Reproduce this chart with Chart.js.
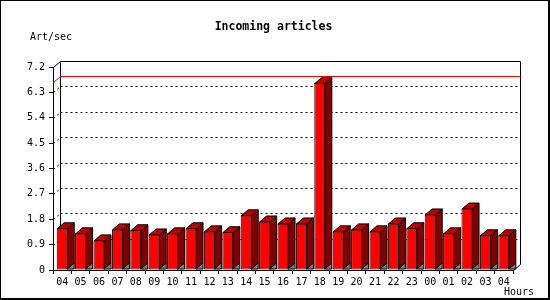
<!DOCTYPE html>
<html>
<head>
<meta charset="utf-8">
<title>Incoming articles</title>
<script src="https://cdn.jsdelivr.net/npm/chart.js@4.4.0/dist/chart.umd.min.js"></script>
<style>
  html, body { margin: 0; padding: 0; background: #fff; }
  #wrap { width: 550px; height: 300px; }
</style>
</head>
<body>
<div id="wrap"><canvas id="articlesChart" width="550" height="300"></canvas></div>
<script>
// jam (sumbu x) dan nilai artikel per detik
const hours = ['04', '05', '06', '07', '08', '09', '10', '11', '12', '13', '14', '15', '16',
               '17', '18', '19', '20', '21', '22', '23', '00', '01', '02', '03', '04'];
const artPerSec = [1.48, 1.30, 1.05, 1.44, 1.41, 1.26, 1.30, 1.48, 1.37, 1.34, 1.94, 1.72, 1.65,
                   1.65, 6.63, 1.37, 1.44, 1.37, 1.65, 1.48, 1.97, 1.30, 2.18, 1.23, 1.23];
const yTicks = [0, 0.9, 1.8, 2.7, 3.6, 4.5, 5.4, 6.3, 7.2];
const peakLine = 6.68;

const DX = 7, DY = 6;
const monoFont = '"DejaVu Sans Mono", "Liberation Mono", monospace';

function poly(ctx, pts, fill) {
    ctx.beginPath();
    ctx.moveTo(pts[0][0], pts[0][1]);
    for (let i = 1; i < pts.length; i++) ctx.lineTo(pts[i][0], pts[i][1]);
    ctx.closePath();
    ctx.fillStyle = fill;
    ctx.fill();
    ctx.stroke();
}

function line(ctx, x1, y1, x2, y2) {
    ctx.beginPath();
    ctx.moveTo(x1, y1);
    ctx.lineTo(x2, y2);
    ctx.stroke();
}

const box3d = {
    id: 'box3d',
    beforeDraw(chart) {
        const ctx = chart.ctx;
        ctx.save();
        ctx.fillStyle = '#fff';
        ctx.fillRect(0, 0, chart.width, chart.height);
        ctx.restore();
    },
    beforeDatasetsDraw(chart) {
        const ctx = chart.ctx;
        const a = chart.chartArea;
        const ys = chart.scales.y;
        const L = Math.round(a.left) + 0.5, R = Math.round(a.right) + 0.5;
        const T = Math.round(a.top) + 0.5, B = Math.round(a.bottom) + 0.5;
        ctx.save();
        ctx.lineWidth = 1;
        ctx.strokeStyle = '#000';
        // dinding belakang
        line(ctx, L, T, L + DX, T - DY);
        line(ctx, L + DX, T - DY, R + DX, T - DY);
        line(ctx, L + DX, T - DY, L + DX, B - DY);
        line(ctx, R + DX, T - DY, R + DX, B - DY);
        line(ctx, R, B, R + DX, B - DY);
        // garis grid putus-putus
        ctx.setLineDash([2, 3]);
        yTicks.slice(1, -1).forEach(v => {
            const y = Math.round(ys.getPixelForValue(v)) + 0.5;
            line(ctx, L, y, L + DX, y - DY);
            line(ctx, L + DX, y - DY, R + DX, y - DY);
        });
        ctx.setLineDash([]);
        // garis puncak merah
        const py = Math.round(ys.getPixelForValue(peakLine)) + 0.5;
        ctx.strokeStyle = '#ff0000';
        ctx.beginPath();
        ctx.moveTo(L, py);
        ctx.lineTo(L + DX, py - DY);
        ctx.lineTo(R + DX, py - DY);
        ctx.stroke();
        ctx.restore();
    },
    afterDatasetsDraw(chart) {
        const ctx = chart.ctx;
        const meta = chart.getDatasetMeta(0);
        ctx.save();
        ctx.lineWidth = 1;
        ctx.strokeStyle = '#000';
        meta.data.forEach(bar => {
            const p = bar.getProps(['x', 'y', 'base', 'width'], true);
            const l = p.x - p.width / 2, r = p.x + p.width / 2 - 0.5;
            const t = p.y + 0.5, b = p.base - 0.5;
            poly(ctx, [[r, t], [r + DX, t - DY], [r + DX, b - DY], [r, b]], '#800000');
            poly(ctx, [[r, b], [r + DX, b - DY], [r + DX, b]], '#808080');
            poly(ctx, [[l + 0.5, t], [l + 0.5 + DX, t - DY], [r + DX, t - DY], [r, t]], '#c00000');
        });
        ctx.restore();
    },
    afterDraw(chart) {
        const ctx = chart.ctx;
        ctx.save();
        ctx.fillStyle = '#000';
        ctx.textBaseline = 'middle';
        ctx.textAlign = 'center';
        ctx.font = 'bold 11.5px ' + monoFont;
        ctx.fillText('Incoming articles', 273.5, 27);
        ctx.font = '10px ' + monoFont;
        ctx.textAlign = 'left';
        ctx.fillText('Art/sec', 30, 37);
        ctx.fillText('Hours', 504, 292);
        // bingkai luar
        ctx.fillRect(0, 0, 550, 1);
        ctx.fillRect(0, 0, 1, 300);
        ctx.fillRect(548, 0, 2, 300);
        ctx.fillRect(0, 298, 550, 2);
        ctx.restore();
    }
};

const ctx = document.getElementById('articlesChart').getContext('2d');
new Chart(ctx, {
    type: 'bar',
    data: {
        labels: hours,
        datasets: [{
            label: 'Art/sec',
            data: artPerSec,
            backgroundColor: '#ff0000',
            borderColor: '#000',
            borderWidth: 1,
            borderSkipped: false,
            barPercentage: 0.6,
            categoryPercentage: 1.0
        }]
    },
    options: {
        responsive: false,
        animation: false,
        devicePixelRatio: 1,
        layout: { padding: { top: 67, right: 37, bottom: 0, left: 0 } },
        plugins: {
            legend: { display: false },
            tooltip: { enabled: false },
            title: { display: false }
        },
        scales: {
            x: {
                grid: { offset: true, drawOnChartArea: false, tickLength: 4, color: '#000' },
                border: { display: true, color: '#000' },
                ticks: { color: '#000', font: { family: monoFont, size: 10 }, padding: 2, maxRotation: 0, autoSkip: false },
                afterFit(scale) { scale.height = 30; }
            },
            y: {
                min: 0,
                max: 7.2,
                afterBuildTicks(scale) { scale.ticks = yTicks.map(v => ({ value: v })); },
                grid: { drawOnChartArea: false, tickLength: 4, color: '#000' },
                border: { display: true, color: '#000' },
                ticks: {
                    color: '#000',
                    font: { family: monoFont, size: 10 },
                    padding: 4,
                    callback: v => v === 0 ? '0' : v.toFixed(1)
                },
                afterFit(scale) { scale.width = 53; }
            }
        }
    },
    plugins: [box3d]
});
</script>
</body>
</html>
